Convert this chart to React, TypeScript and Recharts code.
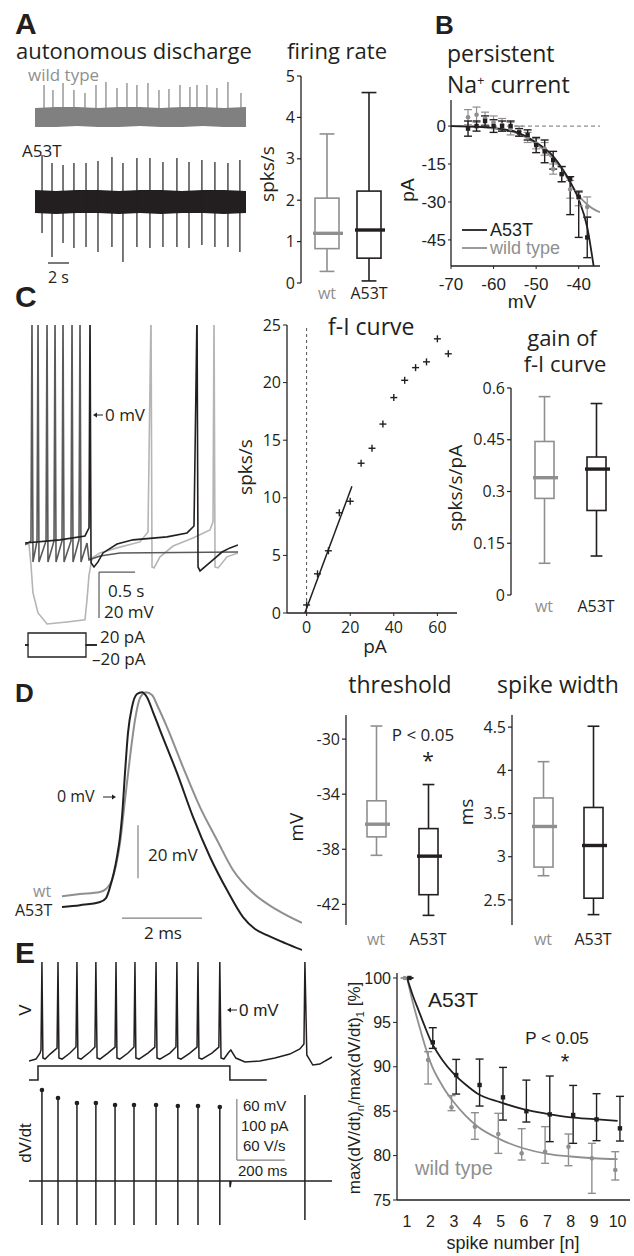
import React from 'react';
import {
  ComposedChart, BarChart, Line, Area, Bar, Scatter, ErrorBar, XAxis, YAxis, ReferenceLine,
} from 'recharts';

const INK = '#231f20';
const WT = '#8f8f8f';
const TRACE_GREY = '#808080';
const DARK_GREY = '#5a5a5a';
const LIGHT_GREY = '#b5b5b5';
const MYR = "'Open Sans', 'Noto Sans', sans-serif";
const HELV = "'Liberation Sans', Arial, sans-serif";
const M0 = { top: 0, right: 0, bottom: 0, left: 0 };

// ---------- A: autonomous discharge (s, a.u.) ----------
const bandT = [0, 2, 4, 6, 8, 10, 12, 14, 16, 18, 20.1];
const wtBandLo = [-10, -10, -9, -10, -10, -9, -10, -10, -9, -10, -10];
const wtBandHi = [9, 10, 10, 9, 10, 10, 9, 10, 10, 9, 10];
const wtSpikeT = [0.86, 1.71, 2.67, 3.71, 4.76, 5.81, 6.76, 7.81, 8.76, 9.71, 10.76, 11.81, 12.76, 13.81, 14.76, 15.43, 16.38, 17.33, 18.38, 19.62];
const wtSpikeAmp = [32, 27, 34, 27, 24, 32, 35, 29, 34, 32, 34, 27, 28, 32, 30, 32, 32, 29, 35, 24];
const mutBandLo = [-11, -12, -11, -11, -12, -11, -12, -11, -11, -12, -11];
const mutBandHi = [12, 11, 12, 12, 11, 12, 12, 11, 12, 12, 11];
const mutSpikeT = [0.67, 1.62, 2.67, 3.71, 4.86, 6.0, 7.33, 8.38, 9.71, 10.95, 12.19, 13.52, 14.67, 15.9, 17.14, 18.38, 19.52];
const mutSpikeUp = [47, 39, 37, 39, 39, 41, 45, 39, 44, 44, 40, 44, 40, 42, 40, 39, 42];
const mutSpikeDown = [-31, -55, -41, -46, -45, -50, -45, -60, -45, -46, -45, -45, -46, -43, -45, -45, -50];

// ---------- box plots: [wt, A53T] ----------
const groups = ['wt', 'A53T'];
const rateStats = { min: [0.28, 0.05], q1: [0.83, 0.6], med: [1.2, 1.28], q3: [2.05, 2.22], max: [3.6, 4.6] };
const gainStats = { min: [0.092, 0.113], q1: [0.28, 0.245], med: [0.34, 0.365], q3: [0.445, 0.4], max: [0.575, 0.555] };
const threshStats = { min: [-38.44, -42.8], q1: [-37.1, -41.3], med: [-36.18, -38.5], q3: [-34.48, -36.5], max: [-29.05, -33.3] };
const widthStats = { min: [2.78, 2.33], q1: [2.88, 2.52], med: [3.35, 3.13], q3: [3.68, 3.57], max: [4.1, 4.51] };

// ---------- B: persistent Na current ----------
const naVolt = [-66, -64, -62, -60, -58, -56, -54, -52, -50, -48, -46, -44, -42, -40, -38];
const naWt = [3.5, 4.5, 3, 1.5, 0.5, -1, -2, -4.5, -7, -9, -17, -19, -25, -28.5, -32];
const naWtErr = [3, 3, 2.5, 2.5, 2.5, 2.5, 2, 2, 2, 2.5, 2, 3, 3.5, 3, 4];
const naMut = [-1, 0, 2, 0, 0, 0, -2.5, -3.5, -7.5, -10, -13.5, -19, -21, -28, -44];
const naMutErrLo = [3, 2, 2, 2.5, 2, 2, 1.5, 2, 3, 4.5, 3.5, 3, 14, 16, 8];
const naMutErrHi = [3, 2, 2, 2.5, 2, 2, 1.5, 2, 3, 4.5, 3.5, 3, 1, 2, 8];
const naMutFitV = [-70, -65, -60, -55, -50, -46, -44, -42, -40, -38, -36.5];
const naMutFitI = [0, -0.2, -0.8, -2.2, -6.5, -12, -16.5, -22, -29, -40, -55.3];
const naWtFitV = [-70, -65, -60, -55, -50, -46, -44, -42, -40, -38, -36, -35];
const naWtFitI = [0, -0.2, -0.8, -2.5, -7, -13, -17, -22.5, -27.5, -31, -33.3, -34];

// ---------- C: step responses (s, mV) ----------
const cDarkT = [0, 0.083, 0.097, 0.111, 0.167, 0.181, 0.194, 0.292, 0.306, 0.319, 0.403, 0.417, 0.431, 0.514, 0.528, 0.542, 0.639, 0.653, 0.667, 0.75, 0.764, 0.778, 0.861, 0.889, 1.042, 1.319, 2.958];
const cDarkV = [-56.5, -54.8, 45, -63.9, -54.8, 45, -63.9, -54.8, 45, -63.9, -54.8, 45, -63.9, -54.8, 45, -63.9, -54.8, 45, -63.9, -54.3, 45, -63.9, -55.7, -63.0, -61.3, -60.0, -59.6];
const cBlackT = [0, 0.486, 0.833, 0.889, 0.903, 0.917, 0.958, 1.014, 1.083, 1.278, 1.5, 1.972, 2.25, 2.347, 2.389, 2.403, 2.431, 2.611, 2.736, 2.847, 2.958];
const cBlackV = [-55.7, -54.3, -52.6, -49.1, 45, -64.3, -66.1, -63.9, -60.0, -56.1, -54.3, -53.0, -51.3, -48.3, 45, -66.1, -67.8, -63.0, -59.6, -57.8, -56.5];
const cLightT = [0, 0.056, 0.083, 0.111, 0.181, 0.306, 0.583, 0.833, 0.861, 0.889, 0.931, 1.042, 1.278, 1.597, 1.708, 1.75, 1.764, 1.792, 1.875, 2.056, 2.333, 2.569, 2.611, 2.625, 2.639, 2.681, 2.806, 2.958];
const cLightV = [-55.7, -56.5, -65.2, -77.4, -86.1, -90.9, -90.0, -89.1, -80.4, -69.6, -62.2, -60.0, -57.8, -55.2, -50.9, 45, -66.1, -66.5, -61.7, -57.0, -53.5, -50.0, -46.5, 45, -66.1, -66.5, -61.7, -60.0];
const cStepT = [0, 0.042, 0.042, 0.847, 0.847, 1.0];
const cStepUp = [0, 0, 20, 20, 0, 0];
const cStepDown = [0, 0, -20, -20, 0, 0];

// ---------- C: f-I curve ----------
const fiCurrent = [0, 5, 10, 15, 20, 25, 30, 35, 40, 45, 50, 55, 60, 65];
const fiRate = [0.7, 3.4, 5.4, 8.7, 9.7, 13.0, 14.3, 16.4, 18.7, 20.2, 21.3, 21.8, 23.8, 22.5];
const fiFitI = [-0.8, 20.8];
const fiFitRate = [0, 11];

// ---------- D: action potentials (ms, mV) ----------
const apMutT = [0, 0.45, 0.95, 1.1, 1.2, 1.3, 1.375, 1.45, 1.5, 1.575, 1.65, 1.75, 1.875, 2.0, 2.125, 2.275, 2.45, 2.875, 3.275, 3.7, 4.125, 4.525, 4.825, 5.125, 5.575, 6.0];
const apMutV = [-41.5, -40.8, -39.6, -38.1, -34.0, -28.3, -22.6, -15.1, -7.5, 9.1, 24.2, 34.0, 38.9, 39.6, 37.7, 32.1, 25.3, 9.1, -7.5, -22.6, -35.1, -45.3, -49.8, -52.1, -55.1, -57.7];
const apWtT = [0, 0.45, 0.95, 1.1, 1.25, 1.35, 1.45, 1.575, 1.7, 1.825, 1.95, 2.1, 2.25, 2.4, 2.625, 3.025, 3.45, 3.875, 4.275, 4.775, 5.375, 6.0];
const apWtV = [-37.4, -36.6, -35.8, -34.7, -31.3, -25.7, -17.4, -1.1, 15.1, 29.1, 37.4, 39.6, 38.5, 34.0, 26.4, 11.3, -3.8, -16.2, -27.5, -36.2, -42.6, -47.5];

// ---------- E: spike train (ms, mV / pA / V/s) ----------
const eVT = [0, 29, 46, 50, 54, 58, 67, 88, 117, 121, 125, 138, 171, 196, 200, 204, 217, 254, 275, 279, 284, 296, 329, 359, 363, 367, 379, 413, 438, 442, 446, 459, 496, 525, 530, 534, 546, 588, 613, 617, 621, 634, 671, 701, 705, 709, 721, 763, 792, 796, 801, 813, 834, 842, 863, 901, 963, 1026, 1088, 1130, 1147, 1151, 1159, 1184, 1213, 1264];
const eVV = [-50.1, -48.2, -42.3, -39.3, 47.2, -47.2, -48.2, -43.3, -37.4, 47.2, -47.2, -48.2, -42.3, -36.4, 47.2, -47.2, -48.2, -41.3, -36.4, 47.2, -47.2, -48.2, -42.3, -36.4, 47.2, -47.2, -48.2, -42.3, -36.4, 47.2, -47.2, -48.2, -42.3, -36.4, 47.2, -47.2, -48.2, -42.3, -36.4, 47.2, -47.2, -48.2, -42.3, -36.4, 47.2, -47.2, -48.2, -42.3, -36.4, 47.2, -47.2, -48.2, -41.3, -39.3, -47.2, -51.1, -50.1, -47.2, -43.3, -38.3, -33.4, 47.2, -44.2, -54.1, -53.1, -46.2];
const eStepT = [0, 37.5, 37.5, 838, 838, 992];
const eStepI = [0, 0, 23, 23, 0, 0];
const dvdtSpikeT = [54, 121, 200, 279, 359, 438, 530, 621, 705, 796, 1151];
const dvdtSpikeUp = [89.5, 81.6, 76.7, 76.7, 74.7, 74.7, 74.7, 73.7, 73.7, 72.8, 84.6];
const dvdtSpikeDown = [-43.3, -43.3, -43.3, -43.3, -43.3, -43.3, -43.3, -43.3, -43.3, -43.3, -38.3];
const dvdtDotCount = 10;

// ---------- E: normalised max dV/dt ----------
const spikeN = [1, 2, 3, 4, 5, 6, 7, 8, 9, 10];
const mutMean = [100, 92.75, 89.07, 87.95, 86.56, 85.0, 84.64, 84.57, 84.08, 83.07];
const mutUpper = [100, 94.4, 90.83, 90.87, 89.93, 88.5, 88.96, 87.9, 86.97, 86.67];
const mutLower = [100, 92.07, 86.93, 85.58, 84.0, 83.78, 81.57, 81.38, 81.68, 81.64];
const wtMean = [100, 90.76, 85.43, 83.26, 82.43, 80.25, 80.44, 81.0, 79.69, 78.38];
const wtUpper = [100, 91.7, 86.75, 84.83, 84.76, 83.03, 83.26, 82.43, 81.38, 80.44];
const wtLower = [100, 88.06, 85.06, 81.83, 80.25, 79.5, 79.13, 78.86, 75.75, 77.25];
const fitN = [1, 1.25, 1.5, 1.75, 2, 2.5, 3, 3.5, 4, 5, 6, 7, 8, 9, 10];
const mutFit = [100, 98.0, 96.3, 94.6, 93.0, 90.8, 89.2, 88.0, 87.0, 86.0, 85.2, 84.7, 84.3, 84.1, 83.9];
const wtFit = [100, 97.2, 94.8, 92.5, 90.5, 87.9, 86.0, 84.5, 83.3, 81.8, 80.8, 80.2, 79.9, 79.7, 79.6];
const nOffset = 0.1;

// ---------- helpers ----------
const pts = (xs: number[], ys: (number | null)[]) => xs.map((x, i) => ({ t: x, v: ys[i] }));

function spikeLines(times: number[], lo: number[], hi: number[]) {
  const out: { t: number; v: number | null }[] = [];
  times.forEach((t, i) => { out.push({ t, v: lo[i] }, { t, v: hi[i] }, { t, v: null }); });
  return out;
}

function dvdtTrace() {
  const out: { t: number; v: number }[] = [{ t: 0, v: 0 }];
  dvdtSpikeT.forEach((t, i) => {
    out.push({ t, v: 0 }, { t, v: dvdtSpikeUp[i] }, { t, v: dvdtSpikeDown[i] }, { t, v: 0 });
    if (i === 9) out.push({ t: 838, v: 0 }, { t: 839, v: -6 }, { t: 843, v: 0 });
  });
  out.push({ t: 1264, v: 0 });
  return out;
}

function boxRows(s: { min: number[]; q1: number[]; med: number[]; q3: number[]; max: number[] }) {
  return groups.map((name, i) => ({
    name, range: [s.min[i], s.max[i]], min: s.min[i], q1: s.q1[i], med: s.med[i], q3: s.q3[i], max: s.max[i],
    color: name === 'wt' ? WT : INK,
  }));
}

function BoxShape(props: any) {
  const { x, y, width, height, payload } = props;
  if (!payload) return null;
  const top = Math.min(y, y + height);
  const h = Math.abs(height);
  const k = h / (payload.max - payload.min);
  const py = (v: number) => top + (payload.max - v) * k;
  const cx = x + width / 2;
  const cap = width * 0.62;
  const c = payload.color;
  return (
    <g>
      <line x1={cx} x2={cx} y1={py(payload.max)} y2={py(payload.min)} stroke={c} strokeWidth={1.6} />
      <line x1={cx - cap / 2} x2={cx + cap / 2} y1={py(payload.max)} y2={py(payload.max)} stroke={c} strokeWidth={1.6} />
      <line x1={cx - cap / 2} x2={cx + cap / 2} y1={py(payload.min)} y2={py(payload.min)} stroke={c} strokeWidth={1.6} />
      <rect x={x} y={py(payload.q3)} width={width} height={py(payload.q1) - py(payload.q3)} fill="#fff" stroke={c} strokeWidth={1.6} />
      <line x1={x - 2} x2={x + width + 4} y1={py(payload.med)} y2={py(payload.med)} stroke={c} strokeWidth={3.4} />
    </g>
  );
}

function CatTick(props: any) {
  const { x, y, payload, offset } = props;
  return (
    <text x={x} y={y + (offset ?? 16)} textAnchor="middle" fontSize={16} fontFamily={MYR} fill={payload.value === 'wt' ? WT : INK}>
      {payload.value}
    </text>
  );
}

const Plus = (p: any) => (
  <g stroke={INK} strokeWidth={1.4}>
    <line x1={p.cx - 3.5} x2={p.cx + 3.5} y1={p.cy} y2={p.cy} />
    <line x1={p.cx} x2={p.cx} y1={p.cy - 3.5} y2={p.cy + 3.5} />
  </g>
);
const Square = (p: any) => <rect x={p.cx - 2.2} y={p.cy - 2.2} width={4.4} height={4.4} fill={INK} />;
const Dot = (p: any) => <circle cx={p.cx} cy={p.cy} r={2.3} fill={p.fill} />;

function Place({ left, top, children }: { left: number; top: number; children: React.ReactNode }) {
  return <div style={{ position: 'absolute', left, top }}>{children}</div>;
}

function BoxPlot({ axisX, plotTop, plotW, plotH, pad, domain, ticks, stats, boxW, labelOffset }: any) {
  const yw = 45;
  const mt = 10;
  const xh = 28;
  return (
    <Place left={axisX - yw} top={plotTop - mt}>
      <BarChart width={yw + plotW + 2} height={mt + plotH + xh} data={boxRows(stats)} margin={{ top: mt, right: 2, bottom: 0, left: 0 }}>
        <XAxis dataKey="name" axisLine={false} tickLine={false} tickSize={0} tickMargin={0} height={xh}
          padding={{ left: pad, right: pad }} interval={0} tick={<CatTick offset={labelOffset} />} />
        <YAxis type="number" domain={domain} ticks={ticks} width={yw} tickSize={4} allowDataOverflow
          axisLine={{ stroke: INK, strokeWidth: 1.3 }} tickLine={{ stroke: INK, strokeWidth: 1.2 }}
          tick={{ fontSize: 16, fill: INK, fontFamily: MYR }} />
        <Bar dataKey="range" barSize={boxW} shape={<BoxShape />} isAnimationActive={false} />
      </BarChart>
    </Place>
  );
}

function T({ x, y, children, size = 17, fam = MYR, fill = INK, anchor = 'start', rot = false, bold = false }: any) {
  return (
    <text x={x} y={y} fontSize={size} fontFamily={fam} fill={fill} textAnchor={anchor}
      fontWeight={bold ? 700 : 400} transform={rot ? `rotate(-90 ${x} ${y})` : undefined}>
      {children}
    </text>
  );
}

export default function App() {
  const wtBand = bandT.map((t, i) => ({ t, band: [wtBandLo[i], wtBandHi[i]] }));
  const mutBand = bandT.map((t, i) => ({ t, band: [mutBandLo[i], mutBandHi[i]] }));
  const wtSpikes = spikeLines(wtSpikeT, wtSpikeT.map(() => 0), wtSpikeAmp);
  const mutSpikes = spikeLines(mutSpikeT, mutSpikeDown, mutSpikeUp);

  const naWtPts = naVolt.map((v, i) => ({ v, i: naWt[i], e: naWtErr[i] }));
  const naMutPts = naVolt.map((v, i) => ({ v, i: naMut[i], e: [naMutErrLo[i], naMutErrHi[i]] }));
  const naMutFit = naMutFitV.map((v, i) => ({ v, i: naMutFitI[i] }));
  const naWtFit = naWtFitV.map((v, i) => ({ v, i: naWtFitI[i] }));

  const fiPts = fiCurrent.map((c, i) => ({ c, r: fiRate[i] }));
  const fiFit = fiFitI.map((c, i) => ({ c, r: fiFitRate[i] }));

  const dvdt = dvdtTrace();
  const dvdtDots = dvdtSpikeT.slice(0, dvdtDotCount).map((t, i) => ({ t, v: dvdtSpikeUp[i] }));

  const mutPts = spikeN.map((n, i) => ({ n: n + nOffset, y: mutMean[i], e: [mutMean[i] - mutLower[i], mutUpper[i] - mutMean[i]] }));
  const wtPts = spikeN.map((n, i) => ({ n: n - nOffset, y: wtMean[i], e: [wtMean[i] - wtLower[i], wtUpper[i] - wtMean[i]] }));
  const mutFitPts = fitN.map((n, i) => ({ n, y: mutFit[i] }));
  const wtFitPts = fitN.map((n, i) => ({ n, y: wtFit[i] }));

  return (
    <div style={{ position: 'absolute', left: 0, top: 0, width: 634, height: 1256, background: '#fff', fontFamily: MYR }}>
      {/* A: traces */}
      <Place left={35} top={80}>
        <ComposedChart width={211} height={50} margin={M0}>
          <XAxis type="number" dataKey="t" domain={[0, 20.1]} hide allowDataOverflow />
          <YAxis type="number" domain={[-13, 37]} hide allowDataOverflow />
          <Area data={wtBand} dataKey="band" type="linear" stroke="none" fill={TRACE_GREY} fillOpacity={1} isAnimationActive={false} />
          <Line data={wtSpikes} dataKey="v" type="linear" stroke={TRACE_GREY} strokeWidth={1.2} dot={false} connectNulls={false} isAnimationActive={false} />
        </ComposedChart>
      </Place>
      <Place left={35} top={150}>
        <ComposedChart width={211} height={115} margin={M0}>
          <XAxis type="number" dataKey="t" domain={[0, 20.1]} hide allowDataOverflow />
          <YAxis type="number" domain={[-63, 52]} hide allowDataOverflow />
          <Area data={mutBand} dataKey="band" type="linear" stroke="none" fill={INK} fillOpacity={1} isAnimationActive={false} />
          <Line data={mutSpikes} dataKey="v" type="linear" stroke={INK} strokeWidth={1.2} dot={false} connectNulls={false} isAnimationActive={false} />
          <ReferenceLine segment={[{ x: 1.24, y: -61 }, { x: 3.24, y: -61 }]} stroke={INK} strokeWidth={1.2} />
        </ComposedChart>
      </Place>

      {/* A: firing rate */}
      <BoxPlot axisX={301} plotTop={76} plotW={94} plotH={207} pad={5} domain={[0, 5]} ticks={[0, 1, 2, 3, 4, 5]}
        stats={rateStats} boxW={24} labelOffset={16} />

      {/* B: persistent Na current */}
      <Place left={416} top={90}>
        <ComposedChart width={189} height={210} margin={{ top: 10, right: 5, bottom: 0, left: 0 }}>
          <XAxis type="number" dataKey="v" domain={[-70, -35]} ticks={[-70, -60, -50, -40]} height={34} tickSize={3} tickMargin={9}
            allowDataOverflow axisLine={{ stroke: INK, strokeWidth: 1.3 }} tickLine={{ stroke: INK }}
            tick={{ fontSize: 17, fill: INK, fontFamily: HELV }} />
          <YAxis type="number" dataKey="i" domain={[-55.3, 10.3]} ticks={[0, -15, -30, -45]} width={35} tickSize={3}
            allowDataOverflow axisLine={{ stroke: INK, strokeWidth: 1.3 }} tickLine={{ stroke: INK }}
            tick={{ fontSize: 17, fill: INK, fontFamily: HELV }} />
          <ReferenceLine segment={[{ x: -70, y: 0 }, { x: -35, y: 0 }]} stroke={WT} strokeDasharray="4 3" strokeWidth={1.2} />
          <Line data={naWtFit} dataKey="i" type="monotone" stroke={WT} strokeWidth={1.8} dot={false} isAnimationActive={false} />
          <Line data={naMutFit} dataKey="i" type="monotone" stroke={INK} strokeWidth={1.8} dot={false} isAnimationActive={false} />
          <Scatter data={naWtPts} dataKey="i" fill={WT} shape={<Dot fill={WT} />} isAnimationActive={false}>
            <ErrorBar dataKey="e" direction="y" width={4} stroke={WT} strokeWidth={1.2} />
          </Scatter>
          <Scatter data={naMutPts} dataKey="i" fill={INK} shape={<Square />} isAnimationActive={false}>
            <ErrorBar dataKey="e" direction="y" width={4} stroke={INK} strokeWidth={1.4} />
          </Scatter>
        </ComposedChart>
      </Place>

      {/* C: step responses */}
      <Place left={25} top={325}>
        <ComposedChart width={213} height={305} margin={M0}>
          <XAxis type="number" dataKey="t" domain={[0, 2.958]} hide allowDataOverflow />
          <YAxis type="number" domain={[-93.5, 39.1]} hide allowDataOverflow />
          <Line data={pts(cLightT, cLightV)} dataKey="v" type="linear" stroke={LIGHT_GREY} strokeWidth={1.6} dot={false} isAnimationActive={false} />
          <Line data={pts(cDarkT, cDarkV)} dataKey="v" type="linear" stroke={DARK_GREY} strokeWidth={1.6} dot={false} isAnimationActive={false} />
          <Line data={pts(cBlackT, cBlackV)} dataKey="v" type="linear" stroke={INK} strokeWidth={1.6} dot={false} isAnimationActive={false} />
          <ReferenceLine segment={[{ x: 1.028, y: -68.3 }, { x: 1.028, y: -88.3 }]} stroke={DARK_GREY} strokeWidth={1.2} />
          <ReferenceLine segment={[{ x: 1.028, y: -68.3 }, { x: 1.528, y: -68.3 }]} stroke={DARK_GREY} strokeWidth={1.2} />
        </ComposedChart>
      </Place>
      <Place left={25} top={630}>
        <ComposedChart width={72} height={30} margin={M0}>
          <XAxis type="number" dataKey="t" domain={[0, 1]} hide allowDataOverflow />
          <YAxis type="number" domain={[-25, 25]} hide allowDataOverflow />
          <Line data={pts(cStepT, cStepUp)} dataKey="v" type="linear" stroke={INK} strokeWidth={1.3} dot={false} isAnimationActive={false} />
          <Line data={pts(cStepT, cStepDown)} dataKey="v" type="linear" stroke={INK} strokeWidth={1.3} dot={false} isAnimationActive={false} />
        </ComposedChart>
      </Place>

      {/* C: f-I curve */}
      <Place left={257} top={315}>
        <ComposedChart width={205} height={323} margin={{ top: 10, right: 5, bottom: 0, left: 0 }}>
          <XAxis type="number" dataKey="c" domain={[-9, 69]} ticks={[0, 20, 40, 60]} height={25} tickSize={3} tickMargin={6}
            allowDataOverflow axisLine={{ stroke: INK, strokeWidth: 1.3 }} tickLine={{ stroke: INK }}
            tick={{ fontSize: 16, fill: INK, fontFamily: MYR }} />
          <YAxis type="number" dataKey="r" domain={[0, 25]} ticks={[0, 5, 10, 15, 20, 25]} width={30} tickSize={4}
            allowDataOverflow axisLine={{ stroke: INK, strokeWidth: 1.3 }} tickLine={{ stroke: INK }}
            tick={{ fontSize: 16, fill: INK, fontFamily: MYR }} />
          <ReferenceLine x={0} stroke={INK} strokeDasharray="3 3" strokeWidth={0.8} />
          <Line data={fiFit} dataKey="r" type="linear" stroke={INK} strokeWidth={1.5} dot={false} isAnimationActive={false} />
          <Scatter data={fiPts} dataKey="r" shape={<Plus />} isAnimationActive={false} />
        </ComposedChart>
      </Place>

      {/* C: gain */}
      <BoxPlot axisX={511} plotTop={388} plotW={118} plotH={207} pad={7} domain={[0, 0.6]} ticks={[0, 0.15, 0.3, 0.45, 0.6]}
        stats={gainStats} boxW={19} labelOffset={17} />

      {/* D: action potentials */}
      <Place left={62} top={685}>
        <ComposedChart width={240} height={270} margin={M0}>
          <XAxis type="number" dataKey="t" domain={[0, 6]} hide allowDataOverflow />
          <YAxis type="number" domain={[-59.6, 42.3]} hide allowDataOverflow />
          <Line data={pts(apWtT, apWtV)} dataKey="v" type="monotone" stroke={WT} strokeWidth={2} dot={false} isAnimationActive={false} />
          <Line data={pts(apMutT, apMutV)} dataKey="v" type="monotone" stroke={INK} strokeWidth={2} dot={false} isAnimationActive={false} />
          <ReferenceLine segment={[{ x: 1.9, y: -10.6 }, { x: 1.9, y: -30.6 }]} stroke={TRACE_GREY} strokeWidth={1.2} />
          <ReferenceLine segment={[{ x: 1.5, y: -45.7 }, { x: 3.5, y: -45.7 }]} stroke={TRACE_GREY} strokeWidth={1.2} />
        </ComposedChart>
      </Place>

      {/* D: threshold + spike width */}
      <BoxPlot axisX={346} plotTop={715} plotW={112} plotH={210} pad={4} domain={[-43.5, -28.25]} ticks={[-42, -38, -34, -30]}
        stats={threshStats} boxW={19} labelOffset={20} />
      <BoxPlot axisX={512} plotTop={715} plotW={112} plotH={210} pad={6} domain={[2.21, 4.64]} ticks={[2.5, 3, 3.5, 4, 4.5]}
        stats={widthStats} boxW={19} labelOffset={20} />

      {/* E: voltage, current, dV/dt */}
      <Place left={29} top={960}>
        <ComposedChart width={303} height={108} margin={M0}>
          <XAxis type="number" dataKey="t" domain={[0, 1264]} hide allowDataOverflow />
          <YAxis type="number" domain={[-57, 49.2]} hide allowDataOverflow />
          <Line data={pts(eVT, eVV)} dataKey="v" type="linear" stroke={INK} strokeWidth={1.5} dot={false} isAnimationActive={false} />
        </ComposedChart>
      </Place>
      <Place left={29} top={1062}>
        <ComposedChart width={303} height={22} margin={M0}>
          <XAxis type="number" dataKey="t" domain={[0, 1264]} hide allowDataOverflow />
          <YAxis type="number" domain={[-6.6, 29.5]} hide allowDataOverflow />
          <Line data={pts(eStepT, eStepI)} dataKey="v" type="linear" stroke={INK} strokeWidth={1.5} dot={false} isAnimationActive={false} />
        </ComposedChart>
      </Place>
      <Place left={29} top={1080}>
        <ComposedChart width={303} height={152} margin={M0}>
          <XAxis type="number" dataKey="t" domain={[0, 1264]} hide allowDataOverflow />
          <YAxis type="number" domain={[-50.1, 99.3]} hide allowDataOverflow />
          <Line data={dvdt} dataKey="v" type="linear" stroke={INK} strokeWidth={1.5} dot={false} isAnimationActive={false} />
          <Scatter data={dvdtDots} dataKey="v" shape={<Dot fill={INK} />} isAnimationActive={false} />
          <ReferenceLine segment={[{ x: 867, y: 80.6 }, { x: 867, y: 20.6 }]} stroke={TRACE_GREY} strokeWidth={1.2} />
          <ReferenceLine segment={[{ x: 867, y: 20.6 }, { x: 1067, y: 20.6 }]} stroke={TRACE_GREY} strokeWidth={1.2} />
        </ComposedChart>
      </Place>

      {/* E: normalised max dV/dt */}
      <Place left={357} top={965}>
        <ComposedChart width={277} height={265} margin={{ top: 8, right: 4, bottom: 0, left: 0 }}>
          <XAxis type="number" dataKey="n" domain={[0.57, 10.53]} ticks={spikeN} height={30} tickSize={0} tickMargin={16}
            allowDataOverflow axisLine={{ stroke: INK, strokeWidth: 1.3 }} tickLine={false}
            tick={{ fontSize: 16, fill: INK, fontFamily: HELV }} />
          <YAxis type="number" dataKey="y" domain={[75, 100.56]} ticks={[75, 80, 85, 90, 95, 100]} width={40} tickSize={4}
            allowDataOverflow axisLine={{ stroke: INK, strokeWidth: 1.3 }} tickLine={{ stroke: INK }}
            tick={{ fontSize: 16, fill: INK, fontFamily: HELV }} />
          <Line data={wtFitPts} dataKey="y" type="monotone" stroke={WT} strokeWidth={1.8} dot={false} isAnimationActive={false} />
          <Line data={mutFitPts} dataKey="y" type="monotone" stroke={INK} strokeWidth={1.8} dot={false} isAnimationActive={false} />
          <Scatter data={wtPts} dataKey="y" shape={<Dot fill={WT} />} isAnimationActive={false}>
            <ErrorBar dataKey="e" direction="y" width={4} stroke={WT} strokeWidth={1.4} />
          </Scatter>
          <Scatter data={mutPts} dataKey="y" shape={<Square />} isAnimationActive={false}>
            <ErrorBar dataKey="e" direction="y" width={4} stroke={INK} strokeWidth={1.4} />
          </Scatter>
        </ComposedChart>
      </Place>

      {/* annotations */}
      <svg width={634} height={1256} style={{ position: 'absolute', left: 0, top: 0, pointerEvents: 'none' }}>
        {/* A */}
        <T x={15} y={34} size={30} fam={HELV} bold>A</T>
        <T x={16} y={59} size={22}>autonomous discharge</T>
        <T x={387} y={59} size={22} anchor="end">firing rate</T>
        <T x={28} y={81} size={17} fill={WT}>wild type</T>
        <T x={22} y={157} size={17}>A53T</T>
        <T x={48} y={283} size={16}>2 s</T>
        <T x={274} y={174} size={19} anchor="middle" rot>spks/s</T>

        {/* B */}
        <T x={435} y={34} size={26} fam={HELV} bold>B</T>
        <T x={447} y={62} size={23}>persistent</T>
        <text x={447} y={93} fontSize={23} fontFamily={MYR} fill={INK}>
          Na<tspan dy={-8} fontSize={13}>+</tspan><tspan dy={8}> current</tspan>
        </text>
        <T x={414} y={190} size={19} fam={HELV} anchor="middle" rot>pA</T>
        <T x={522} y={308} size={19} fam={HELV} anchor="middle">mV</T>
        <line x1={462} x2={487} y1={230} y2={230} stroke={INK} strokeWidth={1.8} />
        <line x1={462} x2={487} y1={248} y2={248} stroke={WT} strokeWidth={1.8} />
        <T x={490} y={236} size={18} fam={HELV}>A53T</T>
        <T x={490} y={254} size={18} fam={HELV} fill={WT}>wild type</T>

        {/* C */}
        <T x={15} y={307} size={30} fam={HELV} bold>C</T>
        <line x1={95} x2={103} y1={415} y2={415} stroke={INK} strokeWidth={1} />
        <polygon points="93,415 97,412.5 97,417.5" fill={INK} />
        <T x={105} y={421} size={17}>0 mV</T>
        <T x={108} y={597} size={17}>0.5 s</T>
        <T x={104} y={618} size={17}>20 mV</T>
        <T x={100} y={643} size={17}>20 pA</T>
        <T x={92} y={665} size={17}>–20 pA</T>
        <T x={328} y={335} size={23}>f-I curve</T>
        <T x={252} y={467} size={19} anchor="middle" rot>spks/s</T>
        <T x={375} y={653} size={19} anchor="middle">pA</T>
        <T x={562} y={346} size={22} anchor="middle">gain of</T>
        <T x={565} y={372} size={22} anchor="middle">f-I curve</T>
        <T x={462} y={488} size={19} anchor="middle" rot>spks/s/pA</T>

        {/* D */}
        <T x={15} y={702} size={26} fam={HELV} bold>D</T>
        <T x={57} y={802} size={16}>0 mV</T>
        <line x1={103} x2={113} y1={797} y2={797} stroke={INK} strokeWidth={1} />
        <polygon points="116,797 112,794.5 112,799.5" fill={INK} />
        <T x={148} y={861} size={17}>20 mV</T>
        <T x={163} y={939} size={17} anchor="middle">2 ms</T>
        <T x={33} y={897} size={16} fill={WT}>wt</T>
        <T x={15} y={916} size={16}>A53T</T>
        <T x={400} y={693} size={23} anchor="middle">threshold</T>
        <T x={558} y={693} size={23} anchor="middle">spike width</T>
        <T x={303} y={827} size={19} anchor="middle" rot>mV</T>
        <T x={473} y={812} size={19} anchor="middle" rot>ms</T>
        <T x={423} y={741} size={17} anchor="middle">P &lt; 0.05</T>
        <T x={428} y={768} size={21} anchor="middle">*</T>

        {/* E */}
        <T x={15} y={963} size={30} fam={HELV} bold>E</T>
        <T x={31} y={1010} size={17} fam={HELV} anchor="middle" rot>V</T>
        <T x={31} y={1143} size={17} fam={HELV} anchor="middle" rot>dV/dt</T>
        <line x1={229} x2={237} y1={1010} y2={1010} stroke={INK} strokeWidth={1} />
        <polygon points="227,1010 231,1007.5 231,1012.5" fill={INK} />
        <T x={239} y={1016} size={17} fam={HELV}>0 mV</T>
        <T x={243} y={1111} size={15} fam={HELV}>60 mV</T>
        <T x={241} y={1131} size={15} fam={HELV}>100 pA</T>
        <T x={243} y={1151} size={15} fam={HELV}>60 V/s</T>
        <T x={238} y={1176} size={15} fam={HELV}>200 ms</T>
        <T x={428} y={1007} size={21} fam={HELV}>A53T</T>
        <T x={557} y={1044} size={17} fam={HELV} anchor="middle">P &lt; 0.05</T>
        <T x={565} y={1069} size={22} fam={HELV} anchor="middle">*</T>
        <T x={415} y={1175} size={20} fam={HELV} fill={WT}>wild type</T>
        <text x={360} y={1088} fontSize={17} fontFamily={HELV} fill={INK} textAnchor="middle" transform="rotate(-90 360 1088)">
          max(dV/dt)<tspan dy={4} fontSize={11}>n</tspan><tspan dy={-4}>/max(dV/dt)</tspan><tspan dy={4} fontSize={11}>1</tspan><tspan dy={-4}> [%]</tspan>
        </text>
        <T x={513} y={1249} size={18} fam={HELV} anchor="middle">spike number [n]</T>
      </svg>
    </div>
  );
}
